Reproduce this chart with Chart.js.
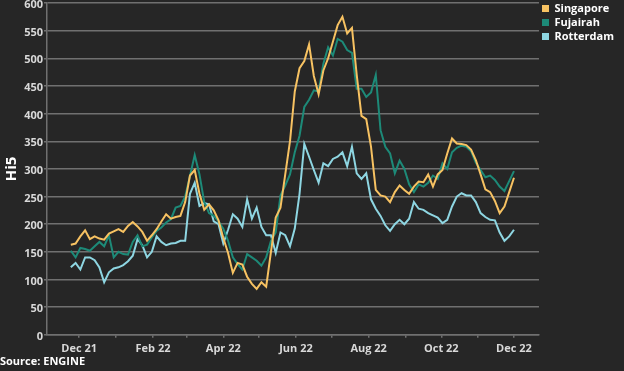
<!DOCTYPE html>
<html>
<head>
<meta charset="utf-8">
<script src="https://cdn.jsdelivr.net/npm/chart.js@4.4.0/dist/chart.umd.min.js"></script>
<style>
  html, body { margin: 0; padding: 0; background: #262626; }
  #wrap { width: 624px; height: 371px; }
</style>
</head>
<body>
<div id="wrap"><canvas id="chart"></canvas></div>
<script>
// Días contados desde el 1 de diciembre de 2021
const days = [-7, -3, 1, 5, 9, 13, 17, 21, 25, 29, 33, 37, 41, 45, 49, 53, 57, 61, 65, 69,
  73, 77, 81, 85, 89, 93, 97, 101, 105, 109, 113, 117, 121, 125, 129, 133, 137, 141, 145, 149,
  153, 157, 161, 165, 169, 173, 177, 181, 185, 189, 193, 197, 201, 205, 209, 213, 217, 221, 225, 229,
  233, 237, 241, 245, 249, 253, 257, 261, 265, 269, 273, 277, 281, 285, 289, 293, 297, 301, 305, 309,
  313, 317, 321, 325, 329, 333, 337, 341, 345, 349, 353, 357, 361, 365];

const singapore = [163, 165, 178, 189, 173, 178, 174, 172, 183, 187, 191, 186, 197, 204, 196, 186, 170, 180, 191, 205,
  218, 210, 213, 215, 240, 288, 298, 255, 226, 236, 225, 207, 175, 148, 112, 130, 127, 105, 92, 83,
  95, 87, 150, 212, 230, 290, 350, 440, 482, 495, 525, 468, 435, 478, 500, 530, 560, 575, 545, 555,
  470, 396, 390, 340, 262, 252, 250, 240, 258, 270, 262, 255, 268, 277, 276, 290, 268, 290, 298, 328,
  355, 346, 345, 343, 335, 316, 290, 263, 258, 242, 220, 232, 258, 284];

const fujairah = [152, 140, 157, 155, 152, 160, 168, 160, 180, 140, 150, 146, 145, 168, 180, 160, 163, 176, 188, 194,
  203, 209, 230, 233, 250, 287, 325, 290, 240, 220, 215, 205, 192, 170, 140, 128, 118, 146, 140, 134,
  125, 140, 170, 185, 252, 270, 290, 330, 360, 412, 425, 442, 440, 490, 520, 505, 535, 530, 515, 510,
  445, 445, 430, 438, 470, 370, 340, 328, 292, 315, 300, 272, 258, 272, 268, 275, 288, 282, 310, 300,
  330, 338, 342, 340, 332, 311, 298, 285, 288, 280, 268, 260, 278, 296];

const rotterdam = [122, 130, 118, 140, 140, 135, 122, 95, 113, 120, 122, 126, 133, 143, 173, 162, 140, 150, 178, 168,
  162, 165, 166, 170, 170, 255, 275, 233, 238, 236, 205, 200, 165, 190, 218, 210, 195, 245, 210, 230,
  195, 180, 180, 148, 185, 180, 160, 192, 255, 345, 322, 298, 275, 310, 305, 318, 322, 330, 305, 340,
  292, 282, 292, 245, 228, 215, 198, 188, 200, 208, 200, 210, 240, 228, 226, 220, 216, 212, 202, 208,
  232, 250, 256, 252, 252, 240, 220, 213, 208, 207, 185, 170, 178, 190];

// Marcas mensuales del eje X (etiqueta cada dos meses)
const monthTicks = [0, 31, 62, 90, 121, 151, 182, 212, 243, 274, 304, 335, 365];
const monthLabels = ['Dec 21', '', 'Feb 22', '', 'Apr 22', '', 'Jun 22', '', 'Aug 22', '', 'Oct 22', '', 'Dec 22'];

const seriesNames = ['Singapore', 'Fujairah', 'Rotterdam'];
const seriesColors = ['#f7c262', '#1d8a78', '#8ed6e2'];

function toPoints(values) {
    return days.map((d, i) => ({ x: d, y: values[i] }));
}

const boldFont = { family: 'Open Sans', weight: 'bold', size: 11 };
const gridColor = '#707070';

Chart.defaults.font.family = 'Open Sans';

const ctx = document.getElementById('chart').getContext('2d');
const chart = new Chart(ctx, {
    type: 'line',
    data: {
        datasets: [singapore, fujairah, rotterdam].map((values, i) => ({
            label: seriesNames[i],
            data: toPoints(values),
            borderColor: seriesColors[i],
            backgroundColor: seriesColors[i],
            borderWidth: 2,
            pointRadius: 0,
            tension: 0
        }))
    },
    options: {
        responsive: true,
        maintainAspectRatio: false,
        animation: false,
        layout: { padding: 0 },
        plugins: {
            legend: {
                position: 'right',
                align: 'start',
                labels: {
                    boxWidth: 7,
                    boxHeight: 7,
                    padding: 3,
                    color: '#ffffff',
                    font: boldFont,
                    generateLabels(c) {
                        return Chart.defaults.plugins.legend.labels.generateLabels(c)
                            .map(l => Object.assign(l, { lineWidth: 0 }));
                    }
                }
            },
            title: {
                display: true,
                position: 'bottom',
                align: 'start',
                text: 'Source: ENGINE',
                color: '#ffffff',
                font: boldFont,
                padding: { top: 0, bottom: 3 }
            },
            tooltip: { enabled: false }
        },
        scales: {
            x: {
                type: 'linear',
                min: -27,
                max: 386,
                afterBuildTicks(scale) {
                    scale.ticks = monthTicks.map(v => ({ value: v }));
                },
                afterFit(scale) {
                    scale.height = 20;
                    scale.paddingLeft = 0;
                    scale.paddingRight = 0;
                },
                ticks: {
                    autoSkip: false,
                    maxRotation: 0,
                    color: '#d9d9d9',
                    font: boldFont,
                    padding: 4,
                    callback: (v, i) => monthLabels[i]
                },
                grid: { drawOnChartArea: false, color: gridColor, lineWidth: 1.5, tickLength: 3 },
                border: { color: gridColor, width: 1.5 }
            },
            y: {
                min: 0,
                max: 600,
                afterFit(scale) {
                    scale.width = 47;
                    scale.paddingTop = 3;
                    scale.paddingBottom = 0;
                },
                ticks: { stepSize: 50, color: '#d9d9d9', font: boldFont, padding: 1, labelOffset: 2 },
                grid: { color: gridColor, lineWidth: 1.5, tickLength: 3 },
                border: { color: gridColor, width: 1.5 },
                title: {
                    display: true,
                    text: 'Hi5',
                    color: '#ffffff',
                    font: { family: 'Open Sans', weight: 'bold', size: 15 },
                    padding: { top: 3, bottom: 0 }
                }
            }
        }
    }
});
</script>
</body>
</html>
